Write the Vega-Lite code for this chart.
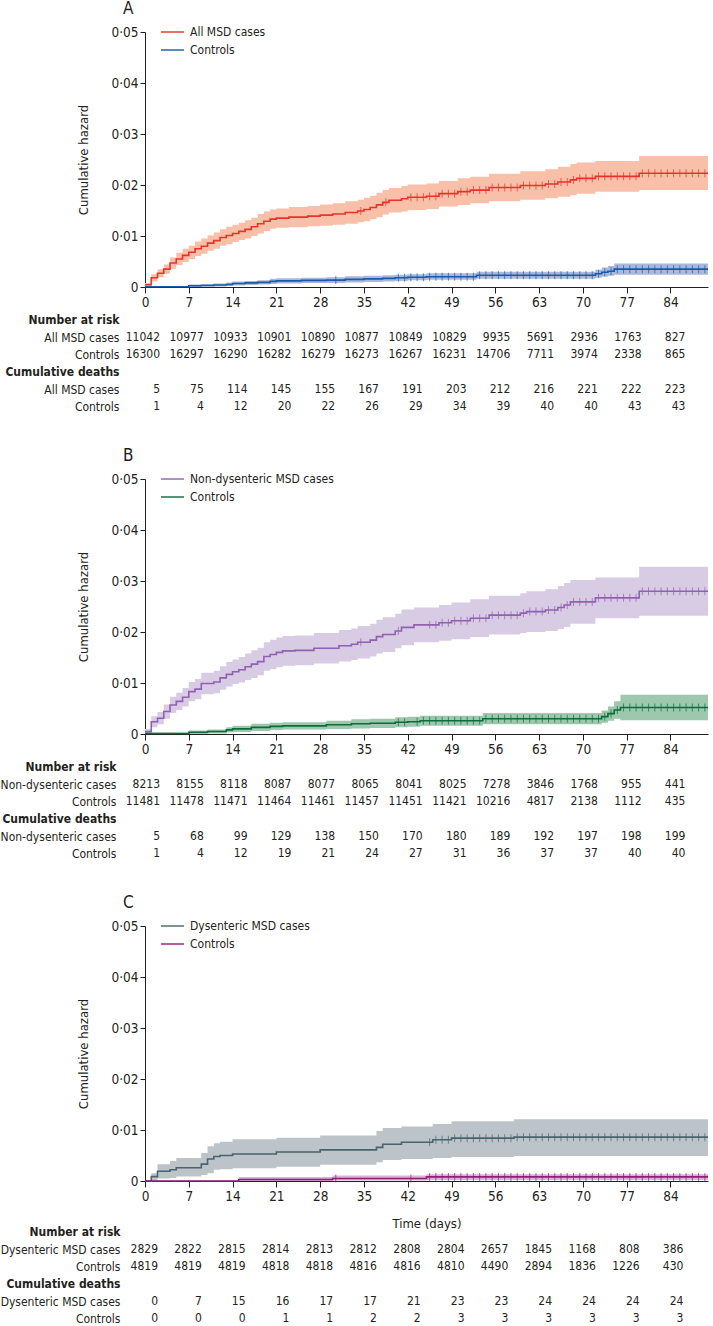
{
"$schema": "https://vega.github.io/schema/vega-lite/v6.json",
"padding": {"left": 0, "top": 0, "right": 0, "bottom": 0},
"config": {
 "font": "DejaVu Sans Condensed",
 "view": {"stroke": null},
 "axis": {"domainColor": "#231f20", "tickColor": "#231f20", "labelColor": "#231f20", "titleColor": "#231f20", "labelFont": "DejaVu Sans Condensed", "titleFont": "DejaVu Sans Condensed", "titleFontWeight": "normal", "titleFontSize": 13, "labelFontSize": 13.5, "grid": false, "domainWidth": 1, "tickWidth": 1},
 "legend": {"labelFont": "DejaVu Sans Condensed"},
 "title": {"font": "DejaVu Sans Condensed"},
 "text": {"font": "DejaVu Sans Condensed"}
},
"datasets": {
 "curves": [
  {"p":"A","g":"case","d":0,"e":0.00045,"l":0.0001,"h":0.0008},{"p":"A","g":"case","d":1,"e":0.0018,"l":0.0011,"h":0.0025},{"p":"A","g":"case","d":2,"e":0.0027,"l":0.0019,"h":0.0035},{"p":"A","g":"case","d":3,"e":0.0035,"l":0.0026,"h":0.0044},{"p":"A","g":"case","d":4,"e":0.0047,"l":0.0036,"h":0.0058},{"p":"A","g":"case","d":5,"e":0.0055,"l":0.0043,"h":0.0067},{"p":"A","g":"case","d":6,"e":0.0062,"l":0.0049,"h":0.0075},{"p":"A","g":"case","d":7,"e":0.0068,"l":0.0055,"h":0.0081},{"p":"A","g":"case","d":8,"e":0.0075,"l":0.0061,"h":0.0089},{"p":"A","g":"case","d":9,"e":0.008,"l":0.0065,"h":0.0095},{"p":"A","g":"case","d":10,"e":0.0086,"l":0.0071,"h":0.0101},{"p":"A","g":"case","d":11,"e":0.0091,"l":0.0075,"h":0.0107},{"p":"A","g":"case","d":12,"e":0.0097,"l":0.0081,"h":0.0113},{"p":"A","g":"case","d":13,"e":0.0101,"l":0.0084,"h":0.0118},{"p":"A","g":"case","d":14,"e":0.0105,"l":0.0088,"h":0.0122},{"p":"A","g":"case","d":15,"e":0.0109,"l":0.0092,"h":0.0126},{"p":"A","g":"case","d":16,"e":0.0113,"l":0.0095,"h":0.0131},{"p":"A","g":"case","d":17,"e":0.0118,"l":0.01,"h":0.0136},{"p":"A","g":"case","d":18,"e":0.0124,"l":0.0105,"h":0.0143},{"p":"A","g":"case","d":19,"e":0.0129,"l":0.011,"h":0.0148},{"p":"A","g":"case","d":20,"e":0.0133,"l":0.0114,"h":0.0152},{"p":"A","g":"case","d":21,"e":0.0135,"l":0.0116,"h":0.0154},{"p":"A","g":"case","d":23,"e":0.0137,"l":0.0117,"h":0.0157},{"p":"A","g":"case","d":26,"e":0.0139,"l":0.0119,"h":0.0159},{"p":"A","g":"case","d":28,"e":0.0141,"l":0.012,"h":0.0162},{"p":"A","g":"case","d":30,"e":0.0143,"l":0.0122,"h":0.0164},{"p":"A","g":"case","d":32,"e":0.0146,"l":0.0124,"h":0.0168},{"p":"A","g":"case","d":34,"e":0.0149,"l":0.0127,"h":0.0171},{"p":"A","g":"case","d":35,"e":0.0152,"l":0.0129,"h":0.0175},{"p":"A","g":"case","d":36,"e":0.0156,"l":0.0133,"h":0.0179},{"p":"A","g":"case","d":37,"e":0.0161,"l":0.0137,"h":0.0185},{"p":"A","g":"case","d":38,"e":0.0166,"l":0.0142,"h":0.019},{"p":"A","g":"case","d":39,"e":0.017,"l":0.0146,"h":0.0194},{"p":"A","g":"case","d":41,"e":0.0173,"l":0.0148,"h":0.0198},{"p":"A","g":"case","d":42,"e":0.0176,"l":0.0151,"h":0.0201},{"p":"A","g":"case","d":45,"e":0.0178,"l":0.0153,"h":0.0203},{"p":"A","g":"case","d":47,"e":0.0183,"l":0.0158,"h":0.0208},{"p":"A","g":"case","d":50,"e":0.0187,"l":0.0161,"h":0.0213},{"p":"A","g":"case","d":52,"e":0.019,"l":0.0164,"h":0.0216},{"p":"A","g":"case","d":55,"e":0.0195,"l":0.0168,"h":0.0222},{"p":"A","g":"case","d":60,"e":0.0199,"l":0.0171,"h":0.0227},{"p":"A","g":"case","d":64,"e":0.0202,"l":0.0174,"h":0.0231},{"p":"A","g":"case","d":66,"e":0.0206,"l":0.0177,"h":0.0236},{"p":"A","g":"case","d":68,"e":0.021,"l":0.018,"h":0.0241},{"p":"A","g":"case","d":69,"e":0.0213,"l":0.0183,"h":0.0244},{"p":"A","g":"case","d":72,"e":0.0217,"l":0.0187,"h":0.0247},{"p":"A","g":"case","d":79,"e":0.0223,"l":0.019,"h":0.0257},{"p":"A","g":"case","d":90,"e":0.0223,"l":0.019,"h":0.0257},
  {"p":"A","g":"ctrl","d":0,"e":0.00006,"l":0,"h":0.0002},{"p":"A","g":"ctrl","d":7,"e":0.00025,"l":0,"h":0.0005},{"p":"A","g":"ctrl","d":9,"e":0.0003,"l":0.0001,"h":0.0006},{"p":"A","g":"ctrl","d":11,"e":0.0004,"l":0.0001,"h":0.0007},{"p":"A","g":"ctrl","d":13,"e":0.0005,"l":0.0002,"h":0.0009},{"p":"A","g":"ctrl","d":14,"e":0.0007,"l":0.0003,"h":0.0011},{"p":"A","g":"ctrl","d":16,"e":0.0008,"l":0.0004,"h":0.0012},{"p":"A","g":"ctrl","d":18,"e":0.0009,"l":0.0005,"h":0.0013},{"p":"A","g":"ctrl","d":20,"e":0.0011,"l":0.0006,"h":0.0016},{"p":"A","g":"ctrl","d":21,"e":0.0012,"l":0.0007,"h":0.0017},{"p":"A","g":"ctrl","d":25,"e":0.0013,"l":0.0008,"h":0.0018},{"p":"A","g":"ctrl","d":29,"e":0.00135,"l":0.0008,"h":0.0019},{"p":"A","g":"ctrl","d":32,"e":0.0015,"l":0.0009,"h":0.0021},{"p":"A","g":"ctrl","d":35,"e":0.0016,"l":0.001,"h":0.0022},{"p":"A","g":"ctrl","d":38,"e":0.0017,"l":0.0011,"h":0.0023},{"p":"A","g":"ctrl","d":40,"e":0.0018,"l":0.0012,"h":0.0024},{"p":"A","g":"ctrl","d":42,"e":0.0019,"l":0.0013,"h":0.0025},{"p":"A","g":"ctrl","d":45,"e":0.002,"l":0.0014,"h":0.0027},{"p":"A","g":"ctrl","d":53,"e":0.0023,"l":0.0016,"h":0.003},{"p":"A","g":"ctrl","d":72,"e":0.0026,"l":0.0018,"h":0.0034},{"p":"A","g":"ctrl","d":73,"e":0.0029,"l":0.002,"h":0.0038},{"p":"A","g":"ctrl","d":74,"e":0.0031,"l":0.0022,"h":0.0041},{"p":"A","g":"ctrl","d":75,"e":0.0035,"l":0.0024,"h":0.0046},{"p":"A","g":"ctrl","d":90,"e":0.0035,"l":0.0024,"h":0.0046},
  {"p":"B","g":"case","d":0,"e":0.00046,"l":0.0001,"h":0.001},{"p":"B","g":"case","d":1,"e":0.0024,"l":0.0013,"h":0.0035},{"p":"B","g":"case","d":2,"e":0.0031,"l":0.0019,"h":0.0043},{"p":"B","g":"case","d":3,"e":0.0044,"l":0.003,"h":0.0058},{"p":"B","g":"case","d":4,"e":0.0057,"l":0.0041,"h":0.0073},{"p":"B","g":"case","d":5,"e":0.0064,"l":0.0047,"h":0.0081},{"p":"B","g":"case","d":6,"e":0.0072,"l":0.0054,"h":0.009},{"p":"B","g":"case","d":7,"e":0.0083,"l":0.0064,"h":0.0102},{"p":"B","g":"case","d":8,"e":0.0088,"l":0.0068,"h":0.0108},{"p":"B","g":"case","d":9,"e":0.0099,"l":0.0078,"h":0.012},{"p":"B","g":"case","d":11,"e":0.0102,"l":0.008,"h":0.0124},{"p":"B","g":"case","d":12,"e":0.011,"l":0.0087,"h":0.0133},{"p":"B","g":"case","d":13,"e":0.0117,"l":0.0093,"h":0.0141},{"p":"B","g":"case","d":14,"e":0.0122,"l":0.0098,"h":0.0146},{"p":"B","g":"case","d":15,"e":0.0126,"l":0.0101,"h":0.0151},{"p":"B","g":"case","d":16,"e":0.0132,"l":0.0106,"h":0.0158},{"p":"B","g":"case","d":17,"e":0.0137,"l":0.011,"h":0.0164},{"p":"B","g":"case","d":18,"e":0.0142,"l":0.0115,"h":0.0169},{"p":"B","g":"case","d":19,"e":0.0152,"l":0.0124,"h":0.018},{"p":"B","g":"case","d":20,"e":0.0156,"l":0.0127,"h":0.0185},{"p":"B","g":"case","d":21,"e":0.016,"l":0.0131,"h":0.0189},{"p":"B","g":"case","d":22,"e":0.0163,"l":0.0134,"h":0.0192},{"p":"B","g":"case","d":24,"e":0.0164,"l":0.0135,"h":0.0193},{"p":"B","g":"case","d":27,"e":0.0168,"l":0.0138,"h":0.0198},{"p":"B","g":"case","d":31,"e":0.0173,"l":0.0142,"h":0.0204},{"p":"B","g":"case","d":33,"e":0.0176,"l":0.0145,"h":0.0207},{"p":"B","g":"case","d":34,"e":0.018,"l":0.0148,"h":0.0212},{"p":"B","g":"case","d":36,"e":0.0184,"l":0.0152,"h":0.0216},{"p":"B","g":"case","d":37,"e":0.0191,"l":0.0158,"h":0.0224},{"p":"B","g":"case","d":38,"e":0.0195,"l":0.0161,"h":0.0229},{"p":"B","g":"case","d":40,"e":0.0202,"l":0.0168,"h":0.0236},{"p":"B","g":"case","d":41,"e":0.0209,"l":0.0174,"h":0.0244},{"p":"B","g":"case","d":43,"e":0.0214,"l":0.018,"h":0.0248},{"p":"B","g":"case","d":47,"e":0.0218,"l":0.0183,"h":0.0253},{"p":"B","g":"case","d":49,"e":0.0222,"l":0.0186,"h":0.0258},{"p":"B","g":"case","d":52,"e":0.0227,"l":0.019,"h":0.0264},{"p":"B","g":"case","d":55,"e":0.0233,"l":0.0195,"h":0.0271},{"p":"B","g":"case","d":60,"e":0.0237,"l":0.0198,"h":0.0276},{"p":"B","g":"case","d":61,"e":0.024,"l":0.02,"h":0.028},{"p":"B","g":"case","d":64,"e":0.0243,"l":0.0202,"h":0.0284},{"p":"B","g":"case","d":66,"e":0.0248,"l":0.0206,"h":0.029},{"p":"B","g":"case","d":67,"e":0.0253,"l":0.021,"h":0.0296},{"p":"B","g":"case","d":68,"e":0.0259,"l":0.0216,"h":0.0302},{"p":"B","g":"case","d":72,"e":0.0267,"l":0.0227,"h":0.0307},{"p":"B","g":"case","d":79,"e":0.028,"l":0.0232,"h":0.0328},{"p":"B","g":"case","d":90,"e":0.028,"l":0.0232,"h":0.0328},
  {"p":"B","g":"ctrl","d":0,"e":0.00009,"l":0,"h":0.0003},{"p":"B","g":"ctrl","d":7,"e":0.00035,"l":0,"h":0.0007},{"p":"B","g":"ctrl","d":10,"e":0.0005,"l":0.0001,"h":0.0009},{"p":"B","g":"ctrl","d":13,"e":0.0008,"l":0.0003,"h":0.0013},{"p":"B","g":"ctrl","d":14,"e":0.001,"l":0.0004,"h":0.0016},{"p":"B","g":"ctrl","d":17,"e":0.0013,"l":0.0006,"h":0.002},{"p":"B","g":"ctrl","d":20,"e":0.0015,"l":0.0008,"h":0.0022},{"p":"B","g":"ctrl","d":22,"e":0.0016,"l":0.0009,"h":0.0023},{"p":"B","g":"ctrl","d":29,"e":0.0018,"l":0.001,"h":0.0026},{"p":"B","g":"ctrl","d":33,"e":0.002,"l":0.0011,"h":0.0029},{"p":"B","g":"ctrl","d":36,"e":0.0021,"l":0.0012,"h":0.003},{"p":"B","g":"ctrl","d":40,"e":0.0023,"l":0.0013,"h":0.0033},{"p":"B","g":"ctrl","d":42,"e":0.0024,"l":0.0014,"h":0.0034},{"p":"B","g":"ctrl","d":44,"e":0.0026,"l":0.0016,"h":0.0036},{"p":"B","g":"ctrl","d":54,"e":0.003,"l":0.0019,"h":0.0041},{"p":"B","g":"ctrl","d":73,"e":0.0034,"l":0.0022,"h":0.0046},{"p":"B","g":"ctrl","d":74,"e":0.004,"l":0.0026,"h":0.0054},{"p":"B","g":"ctrl","d":75,"e":0.0047,"l":0.003,"h":0.0064},{"p":"B","g":"ctrl","d":76,"e":0.0052,"l":0.0027,"h":0.0077},{"p":"B","g":"ctrl","d":90,"e":0.0052,"l":0.0027,"h":0.0077},
  {"p":"C","g":"case","d":0,"e":0,"l":0,"h":0},{"p":"C","g":"case","d":1,"e":0.00085,"l":0,"h":0.0015},{"p":"C","g":"case","d":2,"e":0.0019,"l":0.0005,"h":0.0033},{"p":"C","g":"case","d":4,"e":0.0022,"l":0.0006,"h":0.0039},{"p":"C","g":"case","d":5,"e":0.0026,"l":0.0009,"h":0.0045},{"p":"C","g":"case","d":9,"e":0.0033,"l":0.0012,"h":0.0055},{"p":"C","g":"case","d":10,"e":0.0043,"l":0.0015,"h":0.0068},{"p":"C","g":"case","d":11,"e":0.0048,"l":0.0022,"h":0.0074},{"p":"C","g":"case","d":12,"e":0.005,"l":0.0023,"h":0.0077},{"p":"C","g":"case","d":14,"e":0.0053,"l":0.0025,"h":0.0082},{"p":"C","g":"case","d":21,"e":0.0057,"l":0.0028,"h":0.0085},{"p":"C","g":"case","d":28,"e":0.0061,"l":0.0032,"h":0.0089},{"p":"C","g":"case","d":37,"e":0.0066,"l":0.0037,"h":0.0098},{"p":"C","g":"case","d":38,"e":0.0072,"l":0.0041,"h":0.0104},{"p":"C","g":"case","d":41,"e":0.0076,"l":0.0043,"h":0.0107},{"p":"C","g":"case","d":46,"e":0.0081,"l":0.0045,"h":0.0112},{"p":"C","g":"case","d":49,"e":0.0084,"l":0.0047,"h":0.0117},{"p":"C","g":"case","d":59,"e":0.0086,"l":0.0049,"h":0.0121},{"p":"C","g":"case","d":90,"e":0.0086,"l":0.0049,"h":0.0121},
  {"p":"C","g":"ctrl","d":0,"e":0,"l":0,"h":0.0001},{"p":"C","g":"ctrl","d":15,"e":0.0003,"l":0,"h":0.0008},{"p":"C","g":"ctrl","d":30,"e":0.0005,"l":0.0001,"h":0.0011},{"p":"C","g":"ctrl","d":45,"e":0.0008,"l":0.0002,"h":0.0013},{"p":"C","g":"ctrl","d":90,"e":0.0008,"l":0.0002,"h":0.0013}
 ],
 "cens": [
  {"p":"A","g":"case","d":34.5,"e":0.0149},{"p":"A","g":"case","d":38.5,"e":0.0166},{"p":"A","g":"case","d":42.5,"e":0.0176},{"p":"A","g":"case","d":43.5,"e":0.0176},{"p":"A","g":"case","d":44.5,"e":0.0176},{"p":"A","g":"case","d":45.5,"e":0.0178},{"p":"A","g":"case","d":46.5,"e":0.0178},{"p":"A","g":"case","d":47.5,"e":0.0183},{"p":"A","g":"case","d":48.5,"e":0.0183},{"p":"A","g":"case","d":49.5,"e":0.0183},{"p":"A","g":"case","d":50.5,"e":0.0187},{"p":"A","g":"case","d":51.5,"e":0.0187},{"p":"A","g":"case","d":52.5,"e":0.019},{"p":"A","g":"case","d":53.5,"e":0.019},{"p":"A","g":"case","d":54.5,"e":0.019},{"p":"A","g":"case","d":55.5,"e":0.0195},{"p":"A","g":"case","d":56.5,"e":0.0195},{"p":"A","g":"case","d":57.5,"e":0.0195},{"p":"A","g":"case","d":58.5,"e":0.0195},{"p":"A","g":"case","d":59.5,"e":0.0195},{"p":"A","g":"case","d":60.5,"e":0.0199},{"p":"A","g":"case","d":61.5,"e":0.0199},{"p":"A","g":"case","d":62.5,"e":0.0199},{"p":"A","g":"case","d":63.5,"e":0.0199},{"p":"A","g":"case","d":64.5,"e":0.0202},{"p":"A","g":"case","d":65.5,"e":0.0202},{"p":"A","g":"case","d":66.5,"e":0.0206},{"p":"A","g":"case","d":67.5,"e":0.0206},{"p":"A","g":"case","d":68.5,"e":0.021},{"p":"A","g":"case","d":69.5,"e":0.0213},{"p":"A","g":"case","d":70.5,"e":0.0213},{"p":"A","g":"case","d":71.5,"e":0.0213},{"p":"A","g":"case","d":72.5,"e":0.0217},{"p":"A","g":"case","d":73.5,"e":0.0217},{"p":"A","g":"case","d":74.5,"e":0.0217},{"p":"A","g":"case","d":75.5,"e":0.0217},{"p":"A","g":"case","d":76.5,"e":0.0217},{"p":"A","g":"case","d":77.5,"e":0.0217},{"p":"A","g":"case","d":78.5,"e":0.0217},{"p":"A","g":"case","d":79.5,"e":0.0223},{"p":"A","g":"case","d":80.5,"e":0.0223},{"p":"A","g":"case","d":81.5,"e":0.0223},{"p":"A","g":"case","d":82.5,"e":0.0223},{"p":"A","g":"case","d":83.5,"e":0.0223},{"p":"A","g":"case","d":84.5,"e":0.0223},{"p":"A","g":"case","d":85.5,"e":0.0223},{"p":"A","g":"case","d":86.5,"e":0.0223},{"p":"A","g":"case","d":87.5,"e":0.0223},{"p":"A","g":"case","d":88.5,"e":0.0223},{"p":"A","g":"case","d":89.5,"e":0.0223},
  {"p":"A","g":"ctrl","d":30.5,"e":0.00135},{"p":"A","g":"ctrl","d":40.5,"e":0.0018},{"p":"A","g":"ctrl","d":41.5,"e":0.0018},{"p":"A","g":"ctrl","d":42.5,"e":0.0019},{"p":"A","g":"ctrl","d":43.5,"e":0.0019},{"p":"A","g":"ctrl","d":44.5,"e":0.0019},{"p":"A","g":"ctrl","d":45.5,"e":0.002},{"p":"A","g":"ctrl","d":46.5,"e":0.002},{"p":"A","g":"ctrl","d":47.5,"e":0.002},{"p":"A","g":"ctrl","d":48.5,"e":0.002},{"p":"A","g":"ctrl","d":49.5,"e":0.002},{"p":"A","g":"ctrl","d":50.5,"e":0.002},{"p":"A","g":"ctrl","d":51.5,"e":0.002},{"p":"A","g":"ctrl","d":52.5,"e":0.002},{"p":"A","g":"ctrl","d":53.5,"e":0.0023},{"p":"A","g":"ctrl","d":54.5,"e":0.0023},{"p":"A","g":"ctrl","d":55.5,"e":0.0023},{"p":"A","g":"ctrl","d":56.5,"e":0.0023},{"p":"A","g":"ctrl","d":57.5,"e":0.0023},{"p":"A","g":"ctrl","d":58.5,"e":0.0023},{"p":"A","g":"ctrl","d":59.5,"e":0.0023},{"p":"A","g":"ctrl","d":60.5,"e":0.0023},{"p":"A","g":"ctrl","d":61.5,"e":0.0023},{"p":"A","g":"ctrl","d":62.5,"e":0.0023},{"p":"A","g":"ctrl","d":63.5,"e":0.0023},{"p":"A","g":"ctrl","d":64.5,"e":0.0023},{"p":"A","g":"ctrl","d":65.5,"e":0.0023},{"p":"A","g":"ctrl","d":66.5,"e":0.0023},{"p":"A","g":"ctrl","d":67.5,"e":0.0023},{"p":"A","g":"ctrl","d":68.5,"e":0.0023},{"p":"A","g":"ctrl","d":69.5,"e":0.0023},{"p":"A","g":"ctrl","d":70.5,"e":0.0023},{"p":"A","g":"ctrl","d":71.5,"e":0.0023},{"p":"A","g":"ctrl","d":72.5,"e":0.0026},{"p":"A","g":"ctrl","d":73.5,"e":0.0029},{"p":"A","g":"ctrl","d":74.5,"e":0.0031},{"p":"A","g":"ctrl","d":75.5,"e":0.0035},{"p":"A","g":"ctrl","d":76.5,"e":0.0035},{"p":"A","g":"ctrl","d":77.5,"e":0.0035},{"p":"A","g":"ctrl","d":78.5,"e":0.0035},{"p":"A","g":"ctrl","d":79.5,"e":0.0035},{"p":"A","g":"ctrl","d":80.5,"e":0.0035},{"p":"A","g":"ctrl","d":81.5,"e":0.0035},{"p":"A","g":"ctrl","d":82.5,"e":0.0035},{"p":"A","g":"ctrl","d":83.5,"e":0.0035},{"p":"A","g":"ctrl","d":84.5,"e":0.0035},{"p":"A","g":"ctrl","d":85.5,"e":0.0035},{"p":"A","g":"ctrl","d":86.5,"e":0.0035},{"p":"A","g":"ctrl","d":87.5,"e":0.0035},{"p":"A","g":"ctrl","d":88.5,"e":0.0035},{"p":"A","g":"ctrl","d":89.5,"e":0.0035},
  {"p":"B","g":"case","d":34.5,"e":0.018},{"p":"B","g":"case","d":40.5,"e":0.0202},{"p":"B","g":"case","d":45.5,"e":0.0214},{"p":"B","g":"case","d":46.5,"e":0.0214},{"p":"B","g":"case","d":47.5,"e":0.0218},{"p":"B","g":"case","d":48.5,"e":0.0218},{"p":"B","g":"case","d":49.5,"e":0.0222},{"p":"B","g":"case","d":50.5,"e":0.0222},{"p":"B","g":"case","d":51.5,"e":0.0222},{"p":"B","g":"case","d":52.5,"e":0.0227},{"p":"B","g":"case","d":53.5,"e":0.0227},{"p":"B","g":"case","d":54.5,"e":0.0227},{"p":"B","g":"case","d":55.5,"e":0.0233},{"p":"B","g":"case","d":56.5,"e":0.0233},{"p":"B","g":"case","d":57.5,"e":0.0233},{"p":"B","g":"case","d":58.5,"e":0.0233},{"p":"B","g":"case","d":59.5,"e":0.0233},{"p":"B","g":"case","d":60.5,"e":0.0237},{"p":"B","g":"case","d":61.5,"e":0.024},{"p":"B","g":"case","d":62.5,"e":0.024},{"p":"B","g":"case","d":63.5,"e":0.024},{"p":"B","g":"case","d":64.5,"e":0.0243},{"p":"B","g":"case","d":65.5,"e":0.0243},{"p":"B","g":"case","d":66.5,"e":0.0248},{"p":"B","g":"case","d":67.5,"e":0.0253},{"p":"B","g":"case","d":68.5,"e":0.0259},{"p":"B","g":"case","d":69.5,"e":0.0259},{"p":"B","g":"case","d":70.5,"e":0.0259},{"p":"B","g":"case","d":71.5,"e":0.0259},{"p":"B","g":"case","d":72.5,"e":0.0267},{"p":"B","g":"case","d":73.5,"e":0.0267},{"p":"B","g":"case","d":74.5,"e":0.0267},{"p":"B","g":"case","d":75.5,"e":0.0267},{"p":"B","g":"case","d":76.5,"e":0.0267},{"p":"B","g":"case","d":77.5,"e":0.0267},{"p":"B","g":"case","d":78.5,"e":0.0267},{"p":"B","g":"case","d":79.5,"e":0.028},{"p":"B","g":"case","d":80.5,"e":0.028},{"p":"B","g":"case","d":81.5,"e":0.028},{"p":"B","g":"case","d":82.5,"e":0.028},{"p":"B","g":"case","d":83.5,"e":0.028},{"p":"B","g":"case","d":84.5,"e":0.028},{"p":"B","g":"case","d":85.5,"e":0.028},{"p":"B","g":"case","d":86.5,"e":0.028},{"p":"B","g":"case","d":87.5,"e":0.028},{"p":"B","g":"case","d":88.5,"e":0.028},{"p":"B","g":"case","d":89.5,"e":0.028},
  {"p":"B","g":"ctrl","d":40.5,"e":0.0023},{"p":"B","g":"ctrl","d":41.5,"e":0.0023},{"p":"B","g":"ctrl","d":43.5,"e":0.0024},{"p":"B","g":"ctrl","d":44.5,"e":0.0026},{"p":"B","g":"ctrl","d":45.5,"e":0.0026},{"p":"B","g":"ctrl","d":46.5,"e":0.0026},{"p":"B","g":"ctrl","d":47.5,"e":0.0026},{"p":"B","g":"ctrl","d":48.5,"e":0.0026},{"p":"B","g":"ctrl","d":49.5,"e":0.0026},{"p":"B","g":"ctrl","d":50.5,"e":0.0026},{"p":"B","g":"ctrl","d":51.5,"e":0.0026},{"p":"B","g":"ctrl","d":52.5,"e":0.0026},{"p":"B","g":"ctrl","d":53.5,"e":0.0026},{"p":"B","g":"ctrl","d":54.5,"e":0.003},{"p":"B","g":"ctrl","d":55.5,"e":0.003},{"p":"B","g":"ctrl","d":56.5,"e":0.003},{"p":"B","g":"ctrl","d":57.5,"e":0.003},{"p":"B","g":"ctrl","d":58.5,"e":0.003},{"p":"B","g":"ctrl","d":59.5,"e":0.003},{"p":"B","g":"ctrl","d":60.5,"e":0.003},{"p":"B","g":"ctrl","d":61.5,"e":0.003},{"p":"B","g":"ctrl","d":62.5,"e":0.003},{"p":"B","g":"ctrl","d":63.5,"e":0.003},{"p":"B","g":"ctrl","d":64.5,"e":0.003},{"p":"B","g":"ctrl","d":65.5,"e":0.003},{"p":"B","g":"ctrl","d":66.5,"e":0.003},{"p":"B","g":"ctrl","d":67.5,"e":0.003},{"p":"B","g":"ctrl","d":68.5,"e":0.003},{"p":"B","g":"ctrl","d":69.5,"e":0.003},{"p":"B","g":"ctrl","d":70.5,"e":0.003},{"p":"B","g":"ctrl","d":71.5,"e":0.003},{"p":"B","g":"ctrl","d":72.5,"e":0.003},{"p":"B","g":"ctrl","d":73.5,"e":0.0034},{"p":"B","g":"ctrl","d":74.5,"e":0.004},{"p":"B","g":"ctrl","d":75.5,"e":0.0047},{"p":"B","g":"ctrl","d":76.5,"e":0.0052},{"p":"B","g":"ctrl","d":77.5,"e":0.0052},{"p":"B","g":"ctrl","d":78.5,"e":0.0052},{"p":"B","g":"ctrl","d":79.5,"e":0.0052},{"p":"B","g":"ctrl","d":80.5,"e":0.0052},{"p":"B","g":"ctrl","d":81.5,"e":0.0052},{"p":"B","g":"ctrl","d":82.5,"e":0.0052},{"p":"B","g":"ctrl","d":83.5,"e":0.0052},{"p":"B","g":"ctrl","d":84.5,"e":0.0052},{"p":"B","g":"ctrl","d":85.5,"e":0.0052},{"p":"B","g":"ctrl","d":86.5,"e":0.0052},{"p":"B","g":"ctrl","d":87.5,"e":0.0052},{"p":"B","g":"ctrl","d":88.5,"e":0.0052},{"p":"B","g":"ctrl","d":89.5,"e":0.0052},
  {"p":"C","g":"case","d":45.5,"e":0.0076},{"p":"C","g":"case","d":46.5,"e":0.0081},{"p":"C","g":"case","d":47.5,"e":0.0081},{"p":"C","g":"case","d":48.5,"e":0.0081},{"p":"C","g":"case","d":49.5,"e":0.0084},{"p":"C","g":"case","d":50.5,"e":0.0084},{"p":"C","g":"case","d":51.5,"e":0.0084},{"p":"C","g":"case","d":52.5,"e":0.0084},{"p":"C","g":"case","d":53.5,"e":0.0084},{"p":"C","g":"case","d":54.5,"e":0.0084},{"p":"C","g":"case","d":55.5,"e":0.0084},{"p":"C","g":"case","d":56.5,"e":0.0084},{"p":"C","g":"case","d":57.5,"e":0.0084},{"p":"C","g":"case","d":58.5,"e":0.0084},{"p":"C","g":"case","d":59.5,"e":0.0086},{"p":"C","g":"case","d":60.5,"e":0.0086},{"p":"C","g":"case","d":61.5,"e":0.0086},{"p":"C","g":"case","d":62.5,"e":0.0086},{"p":"C","g":"case","d":63.5,"e":0.0086},{"p":"C","g":"case","d":64.5,"e":0.0086},{"p":"C","g":"case","d":65.5,"e":0.0086},{"p":"C","g":"case","d":66.5,"e":0.0086},{"p":"C","g":"case","d":67.5,"e":0.0086},{"p":"C","g":"case","d":68.5,"e":0.0086},{"p":"C","g":"case","d":69.5,"e":0.0086},{"p":"C","g":"case","d":70.5,"e":0.0086},{"p":"C","g":"case","d":71.5,"e":0.0086},{"p":"C","g":"case","d":72.5,"e":0.0086},{"p":"C","g":"case","d":73.5,"e":0.0086},{"p":"C","g":"case","d":74.5,"e":0.0086},{"p":"C","g":"case","d":75.5,"e":0.0086},{"p":"C","g":"case","d":76.5,"e":0.0086},{"p":"C","g":"case","d":77.5,"e":0.0086},{"p":"C","g":"case","d":78.5,"e":0.0086},{"p":"C","g":"case","d":79.5,"e":0.0086},{"p":"C","g":"case","d":80.5,"e":0.0086},{"p":"C","g":"case","d":81.5,"e":0.0086},{"p":"C","g":"case","d":82.5,"e":0.0086},{"p":"C","g":"case","d":83.5,"e":0.0086},{"p":"C","g":"case","d":84.5,"e":0.0086},{"p":"C","g":"case","d":85.5,"e":0.0086},{"p":"C","g":"case","d":86.5,"e":0.0086},{"p":"C","g":"case","d":87.5,"e":0.0086},{"p":"C","g":"case","d":88.5,"e":0.0086},{"p":"C","g":"case","d":89.5,"e":0.0086},
  {"p":"C","g":"ctrl","d":30.5,"e":0.0005},{"p":"C","g":"ctrl","d":42.5,"e":0.0005},{"p":"C","g":"ctrl","d":45.5,"e":0.0008},{"p":"C","g":"ctrl","d":46.5,"e":0.0008},{"p":"C","g":"ctrl","d":47.5,"e":0.0008},{"p":"C","g":"ctrl","d":48.5,"e":0.0008},{"p":"C","g":"ctrl","d":49.5,"e":0.0008},{"p":"C","g":"ctrl","d":50.5,"e":0.0008},{"p":"C","g":"ctrl","d":51.5,"e":0.0008},{"p":"C","g":"ctrl","d":52.5,"e":0.0008},{"p":"C","g":"ctrl","d":53.5,"e":0.0008},{"p":"C","g":"ctrl","d":54.5,"e":0.0008},{"p":"C","g":"ctrl","d":55.5,"e":0.0008},{"p":"C","g":"ctrl","d":56.5,"e":0.0008},{"p":"C","g":"ctrl","d":57.5,"e":0.0008},{"p":"C","g":"ctrl","d":58.5,"e":0.0008},{"p":"C","g":"ctrl","d":59.5,"e":0.0008},{"p":"C","g":"ctrl","d":60.5,"e":0.0008},{"p":"C","g":"ctrl","d":61.5,"e":0.0008},{"p":"C","g":"ctrl","d":62.5,"e":0.0008},{"p":"C","g":"ctrl","d":63.5,"e":0.0008},{"p":"C","g":"ctrl","d":64.5,"e":0.0008},{"p":"C","g":"ctrl","d":65.5,"e":0.0008},{"p":"C","g":"ctrl","d":66.5,"e":0.0008},{"p":"C","g":"ctrl","d":67.5,"e":0.0008},{"p":"C","g":"ctrl","d":68.5,"e":0.0008},{"p":"C","g":"ctrl","d":69.5,"e":0.0008},{"p":"C","g":"ctrl","d":70.5,"e":0.0008},{"p":"C","g":"ctrl","d":71.5,"e":0.0008},{"p":"C","g":"ctrl","d":72.5,"e":0.0008},{"p":"C","g":"ctrl","d":73.5,"e":0.0008},{"p":"C","g":"ctrl","d":74.5,"e":0.0008},{"p":"C","g":"ctrl","d":75.5,"e":0.0008},{"p":"C","g":"ctrl","d":76.5,"e":0.0008},{"p":"C","g":"ctrl","d":77.5,"e":0.0008},{"p":"C","g":"ctrl","d":78.5,"e":0.0008},{"p":"C","g":"ctrl","d":79.5,"e":0.0008},{"p":"C","g":"ctrl","d":80.5,"e":0.0008},{"p":"C","g":"ctrl","d":81.5,"e":0.0008},{"p":"C","g":"ctrl","d":82.5,"e":0.0008},{"p":"C","g":"ctrl","d":83.5,"e":0.0008},{"p":"C","g":"ctrl","d":84.5,"e":0.0008},{"p":"C","g":"ctrl","d":85.5,"e":0.0008},{"p":"C","g":"ctrl","d":86.5,"e":0.0008},{"p":"C","g":"ctrl","d":87.5,"e":0.0008},{"p":"C","g":"ctrl","d":88.5,"e":0.0008},{"p":"C","g":"ctrl","d":89.5,"e":0.0008}
 ],
 "tables": [
  {"p":"A","r":"r1","d":0,"v":11042},{"p":"A","r":"r1","d":7,"v":10977},{"p":"A","r":"r1","d":14,"v":10933},{"p":"A","r":"r1","d":21,"v":10901},{"p":"A","r":"r1","d":28,"v":10890},{"p":"A","r":"r1","d":35,"v":10877},{"p":"A","r":"r1","d":42,"v":10849},{"p":"A","r":"r1","d":49,"v":10829},{"p":"A","r":"r1","d":56,"v":9935},{"p":"A","r":"r1","d":63,"v":5691},{"p":"A","r":"r1","d":70,"v":2936},{"p":"A","r":"r1","d":77,"v":1763},{"p":"A","r":"r1","d":84,"v":827},
  {"p":"A","r":"r2","d":0,"v":16300},{"p":"A","r":"r2","d":7,"v":16297},{"p":"A","r":"r2","d":14,"v":16290},{"p":"A","r":"r2","d":21,"v":16282},{"p":"A","r":"r2","d":28,"v":16279},{"p":"A","r":"r2","d":35,"v":16273},{"p":"A","r":"r2","d":42,"v":16267},{"p":"A","r":"r2","d":49,"v":16231},{"p":"A","r":"r2","d":56,"v":14706},{"p":"A","r":"r2","d":63,"v":7711},{"p":"A","r":"r2","d":70,"v":3974},{"p":"A","r":"r2","d":77,"v":2338},{"p":"A","r":"r2","d":84,"v":865},
  {"p":"A","r":"r3","d":0,"v":5},{"p":"A","r":"r3","d":7,"v":75},{"p":"A","r":"r3","d":14,"v":114},{"p":"A","r":"r3","d":21,"v":145},{"p":"A","r":"r3","d":28,"v":155},{"p":"A","r":"r3","d":35,"v":167},{"p":"A","r":"r3","d":42,"v":191},{"p":"A","r":"r3","d":49,"v":203},{"p":"A","r":"r3","d":56,"v":212},{"p":"A","r":"r3","d":63,"v":216},{"p":"A","r":"r3","d":70,"v":221},{"p":"A","r":"r3","d":77,"v":222},{"p":"A","r":"r3","d":84,"v":223},
  {"p":"A","r":"r4","d":0,"v":1},{"p":"A","r":"r4","d":7,"v":4},{"p":"A","r":"r4","d":14,"v":12},{"p":"A","r":"r4","d":21,"v":20},{"p":"A","r":"r4","d":28,"v":22},{"p":"A","r":"r4","d":35,"v":26},{"p":"A","r":"r4","d":42,"v":29},{"p":"A","r":"r4","d":49,"v":34},{"p":"A","r":"r4","d":56,"v":39},{"p":"A","r":"r4","d":63,"v":40},{"p":"A","r":"r4","d":70,"v":40},{"p":"A","r":"r4","d":77,"v":43},{"p":"A","r":"r4","d":84,"v":43},
  {"p":"B","r":"r1","d":0,"v":8213},{"p":"B","r":"r1","d":7,"v":8155},{"p":"B","r":"r1","d":14,"v":8118},{"p":"B","r":"r1","d":21,"v":8087},{"p":"B","r":"r1","d":28,"v":8077},{"p":"B","r":"r1","d":35,"v":8065},{"p":"B","r":"r1","d":42,"v":8041},{"p":"B","r":"r1","d":49,"v":8025},{"p":"B","r":"r1","d":56,"v":7278},{"p":"B","r":"r1","d":63,"v":3846},{"p":"B","r":"r1","d":70,"v":1768},{"p":"B","r":"r1","d":77,"v":955},{"p":"B","r":"r1","d":84,"v":441},
  {"p":"B","r":"r2","d":0,"v":11481},{"p":"B","r":"r2","d":7,"v":11478},{"p":"B","r":"r2","d":14,"v":11471},{"p":"B","r":"r2","d":21,"v":11464},{"p":"B","r":"r2","d":28,"v":11461},{"p":"B","r":"r2","d":35,"v":11457},{"p":"B","r":"r2","d":42,"v":11451},{"p":"B","r":"r2","d":49,"v":11421},{"p":"B","r":"r2","d":56,"v":10216},{"p":"B","r":"r2","d":63,"v":4817},{"p":"B","r":"r2","d":70,"v":2138},{"p":"B","r":"r2","d":77,"v":1112},{"p":"B","r":"r2","d":84,"v":435},
  {"p":"B","r":"r3","d":0,"v":5},{"p":"B","r":"r3","d":7,"v":68},{"p":"B","r":"r3","d":14,"v":99},{"p":"B","r":"r3","d":21,"v":129},{"p":"B","r":"r3","d":28,"v":138},{"p":"B","r":"r3","d":35,"v":150},{"p":"B","r":"r3","d":42,"v":170},{"p":"B","r":"r3","d":49,"v":180},{"p":"B","r":"r3","d":56,"v":189},{"p":"B","r":"r3","d":63,"v":192},{"p":"B","r":"r3","d":70,"v":197},{"p":"B","r":"r3","d":77,"v":198},{"p":"B","r":"r3","d":84,"v":199},
  {"p":"B","r":"r4","d":0,"v":1},{"p":"B","r":"r4","d":7,"v":4},{"p":"B","r":"r4","d":14,"v":12},{"p":"B","r":"r4","d":21,"v":19},{"p":"B","r":"r4","d":28,"v":21},{"p":"B","r":"r4","d":35,"v":24},{"p":"B","r":"r4","d":42,"v":27},{"p":"B","r":"r4","d":49,"v":31},{"p":"B","r":"r4","d":56,"v":36},{"p":"B","r":"r4","d":63,"v":37},{"p":"B","r":"r4","d":70,"v":37},{"p":"B","r":"r4","d":77,"v":40},{"p":"B","r":"r4","d":84,"v":40},
  {"p":"C","r":"r1","d":0,"v":2829},{"p":"C","r":"r1","d":7,"v":2822},{"p":"C","r":"r1","d":14,"v":2815},{"p":"C","r":"r1","d":21,"v":2814},{"p":"C","r":"r1","d":28,"v":2813},{"p":"C","r":"r1","d":35,"v":2812},{"p":"C","r":"r1","d":42,"v":2808},{"p":"C","r":"r1","d":49,"v":2804},{"p":"C","r":"r1","d":56,"v":2657},{"p":"C","r":"r1","d":63,"v":1845},{"p":"C","r":"r1","d":70,"v":1168},{"p":"C","r":"r1","d":77,"v":808},{"p":"C","r":"r1","d":84,"v":386},
  {"p":"C","r":"r2","d":0,"v":4819},{"p":"C","r":"r2","d":7,"v":4819},{"p":"C","r":"r2","d":14,"v":4819},{"p":"C","r":"r2","d":21,"v":4818},{"p":"C","r":"r2","d":28,"v":4818},{"p":"C","r":"r2","d":35,"v":4816},{"p":"C","r":"r2","d":42,"v":4816},{"p":"C","r":"r2","d":49,"v":4810},{"p":"C","r":"r2","d":56,"v":4490},{"p":"C","r":"r2","d":63,"v":2894},{"p":"C","r":"r2","d":70,"v":1836},{"p":"C","r":"r2","d":77,"v":1226},{"p":"C","r":"r2","d":84,"v":430},
  {"p":"C","r":"r3","d":0,"v":0},{"p":"C","r":"r3","d":7,"v":7},{"p":"C","r":"r3","d":14,"v":15},{"p":"C","r":"r3","d":21,"v":16},{"p":"C","r":"r3","d":28,"v":17},{"p":"C","r":"r3","d":35,"v":17},{"p":"C","r":"r3","d":42,"v":21},{"p":"C","r":"r3","d":49,"v":23},{"p":"C","r":"r3","d":56,"v":23},{"p":"C","r":"r3","d":63,"v":24},{"p":"C","r":"r3","d":70,"v":24},{"p":"C","r":"r3","d":77,"v":24},{"p":"C","r":"r3","d":84,"v":24},
  {"p":"C","r":"r4","d":0,"v":0},{"p":"C","r":"r4","d":7,"v":0},{"p":"C","r":"r4","d":14,"v":0},{"p":"C","r":"r4","d":21,"v":1},{"p":"C","r":"r4","d":28,"v":1},{"p":"C","r":"r4","d":35,"v":2},{"p":"C","r":"r4","d":42,"v":2},{"p":"C","r":"r4","d":49,"v":3},{"p":"C","r":"r4","d":56,"v":3},{"p":"C","r":"r4","d":63,"v":3},{"p":"C","r":"r4","d":70,"v":3},{"p":"C","r":"r4","d":77,"v":3},{"p":"C","r":"r4","d":84,"v":3}
 ]
},
"vconcat": [
 {
  "vconcat": [
   {
    "width": 563, "height": 255,
    "title": {"text": "A", "anchor": "start", "frame": "group", "dx": -22, "offset": 6, "fontSize": 17, "fontWeight": "normal", "color": "#231f20"},
    "layer": [
     {"data": {"name": "curves"}, "transform": [{"filter": "datum.p == 'A'"}],
      "mark": {"type": "area", "interpolate": "step-after"},
      "encoding": {
       "x": {"field": "d", "type": "quantitative", "title": null, "scale": {"domain": [0, 90], "nice": false}, "axis": {"values": [0,7,14,21,28,35,42,49,56,63,70,77,84], "tickSize": 6, "labelPadding": 2, "labelFlush": false}},
       "y": {"field": "l", "type": "quantitative", "title": "Cumulative hazard", "scale": {"domain": [0, 0.05], "nice": false}, "axis": {"values": [0,0.01,0.02,0.03,0.04,0.05], "labelExpr": "datum.value == 0 ? '0' : replace(format(datum.value, '.2f'), '.', '·')", "tickSize": 5, "labelPadding": 2, "titlePadding": 20}},
       "y2": {"field": "h"},
       "fill": {"field": "g", "type": "nominal", "scale": {"domain": ["ctrl", "case"], "range": ["#a9b8dc", "#f8c0a8"]}, "legend": null}
      }},
     {"data": {"name": "curves"}, "transform": [{"filter": "datum.p == 'A'"}],
      "mark": {"type": "line", "interpolate": "step-after", "strokeWidth": 1.6},
      "encoding": {
       "x": {"field": "d", "type": "quantitative", "title": null},
       "y": {"field": "e", "type": "quantitative", "title": "Cumulative hazard"},
       "color": {"field": "g", "type": "nominal", "scale": {"domain": ["case", "ctrl"], "range": ["#e8322a", "#1b5aa6"]},
        "legend": {"orient": "none", "legendX": 15, "legendY": -8, "title": null, "symbolType": "stroke", "symbolSize": 529, "symbolStrokeWidth": 2, "labelFontSize": 12, "labelOffset": 5, "clipHeight": 16, "rowPadding": 2, "padding": 0, "labelColor": "#231f20", "labelExpr": "datum.label == 'case' ? 'All MSD cases' : 'Controls'"}}
      }},
     {"data": {"name": "cens"}, "transform": [{"filter": "datum.p == 'A'"}],
      "mark": {"type": "tick", "orient": "vertical", "size": 8, "thickness": 1},
      "encoding": {
       "x": {"field": "d", "type": "quantitative", "title": null},
       "y": {"field": "e", "type": "quantitative", "title": "Cumulative hazard"},
       "color": {"field": "g", "type": "nominal"}
      }}
    ]
   },
   {
    "width": 563, "height": 104,
    "data": {"name": "tables"}, "transform": [{"filter": "datum.p == 'A'"}],
    "mark": {"type": "text", "align": "right", "dx": 15, "baseline": "middle", "fontSize": 12, "color": "#231f20"},
    "encoding": {
     "x": {"field": "d", "type": "quantitative", "scale": {"domain": [0, 90], "nice": false}, "axis": null},
     "y": {"field": "r", "type": "nominal", "scale": {"type": "point", "domain": ["h1","r1","r2","h2","r3","r4"], "padding": 0.5},
      "axis": {"title": null, "domain": false, "ticks": false, "labelPadding": 26, "labelFontSize": 12, "labelLimit": 300,
       "labelExpr": "datum.value == 'h1' ? 'Number at risk' : datum.value == 'h2' ? 'Cumulative deaths' : (datum.value == 'r1' || datum.value == 'r3') ? 'All MSD cases' : 'Controls'",
       "labelFontWeight": {"condition": {"test": "datum.value == 'h1' || datum.value == 'h2'", "value": "bold"}, "value": "normal"}}},
     "text": {"field": "v", "type": "nominal"}
    }
   }
  ],
  "spacing": 24, "bounds": "flush",
  "resolve": {"scale": {"color": "independent", "fill": "independent"}, "legend": {"color": "independent"}}
 },
 {
  "vconcat": [
   {
    "width": 563, "height": 255,
    "title": {"text": "B", "anchor": "start", "frame": "group", "dx": -22, "offset": 6, "fontSize": 17, "fontWeight": "normal", "color": "#231f20"},
    "layer": [
     {"data": {"name": "curves"}, "transform": [{"filter": "datum.p == 'B'"}],
      "mark": {"type": "area", "interpolate": "step-after"},
      "encoding": {
       "x": {"field": "d", "type": "quantitative", "title": null, "scale": {"domain": [0, 90], "nice": false}, "axis": {"values": [0,7,14,21,28,35,42,49,56,63,70,77,84], "tickSize": 6, "labelPadding": 2, "labelFlush": false}},
       "y": {"field": "l", "type": "quantitative", "title": "Cumulative hazard", "scale": {"domain": [0, 0.05], "nice": false}, "axis": {"values": [0,0.01,0.02,0.03,0.04,0.05], "labelExpr": "datum.value == 0 ? '0' : replace(format(datum.value, '.2f'), '.', '·')", "tickSize": 5, "labelPadding": 2, "titlePadding": 20}},
       "y2": {"field": "h"},
       "fill": {"field": "g", "type": "nominal", "scale": {"domain": ["ctrl", "case"], "range": ["#9dc8ae", "#d8cbe4"]}, "legend": null}
      }},
     {"data": {"name": "curves"}, "transform": [{"filter": "datum.p == 'B'"}],
      "mark": {"type": "line", "interpolate": "step-after", "strokeWidth": 1.6},
      "encoding": {
       "x": {"field": "d", "type": "quantitative", "title": null},
       "y": {"field": "e", "type": "quantitative", "title": "Cumulative hazard"},
       "color": {"field": "g", "type": "nominal", "scale": {"domain": ["case", "ctrl"], "range": ["#9061b0", "#0e6b3b"]},
        "legend": {"orient": "none", "legendX": 15, "legendY": -8, "title": null, "symbolType": "stroke", "symbolSize": 529, "symbolStrokeWidth": 2, "labelFontSize": 12, "labelOffset": 5, "clipHeight": 16, "rowPadding": 2, "padding": 0, "labelColor": "#231f20", "labelExpr": "datum.label == 'case' ? 'Non-dysenteric MSD cases' : 'Controls'"}}
      }},
     {"data": {"name": "cens"}, "transform": [{"filter": "datum.p == 'B'"}],
      "mark": {"type": "tick", "orient": "vertical", "size": 8, "thickness": 1},
      "encoding": {
       "x": {"field": "d", "type": "quantitative", "title": null},
       "y": {"field": "e", "type": "quantitative", "title": "Cumulative hazard"},
       "color": {"field": "g", "type": "nominal"}
      }}
    ]
   },
   {
    "width": 563, "height": 104,
    "data": {"name": "tables"}, "transform": [{"filter": "datum.p == 'B'"}],
    "mark": {"type": "text", "align": "right", "dx": 15, "baseline": "middle", "fontSize": 12, "color": "#231f20"},
    "encoding": {
     "x": {"field": "d", "type": "quantitative", "scale": {"domain": [0, 90], "nice": false}, "axis": null},
     "y": {"field": "r", "type": "nominal", "scale": {"type": "point", "domain": ["h1","r1","r2","h2","r3","r4"], "padding": 0.5},
      "axis": {"title": null, "domain": false, "ticks": false, "labelPadding": 29, "labelFontSize": 12, "labelLimit": 300,
       "labelExpr": "datum.value == 'h1' ? 'Number at risk' : datum.value == 'h2' ? 'Cumulative deaths' : (datum.value == 'r1' || datum.value == 'r3') ? 'Non-dysenteric cases' : 'Controls'",
       "labelFontWeight": {"condition": {"test": "datum.value == 'h1' || datum.value == 'h2'", "value": "bold"}, "value": "normal"}}},
     "text": {"field": "v", "type": "nominal"}
    }
   }
  ],
  "spacing": 24, "bounds": "flush",
  "resolve": {"scale": {"color": "independent", "fill": "independent"}, "legend": {"color": "independent"}}
 },
 {
  "vconcat": [
   {
    "width": 563, "height": 255,
    "title": {"text": "C", "anchor": "start", "frame": "group", "dx": -22, "offset": 6, "fontSize": 17, "fontWeight": "normal", "color": "#231f20"},
    "layer": [
     {"data": {"name": "curves"}, "transform": [{"filter": "datum.p == 'C'"}],
      "mark": {"type": "area", "interpolate": "step-after"},
      "encoding": {
       "x": {"field": "d", "type": "quantitative", "title": "Time (days)", "scale": {"domain": [0, 90], "nice": false}, "axis": {"values": [0,7,14,21,28,35,42,49,56,63,70,77,84], "tickSize": 6, "labelPadding": 2, "labelFlush": false, "titlePadding": 15}},
       "y": {"field": "l", "type": "quantitative", "title": "Cumulative hazard", "scale": {"domain": [0, 0.05], "nice": false}, "axis": {"values": [0,0.01,0.02,0.03,0.04,0.05], "labelExpr": "datum.value == 0 ? '0' : replace(format(datum.value, '.2f'), '.', '·')", "tickSize": 5, "labelPadding": 2, "titlePadding": 20}},
       "y2": {"field": "h"},
       "fill": {"field": "g", "type": "nominal", "scale": {"domain": ["ctrl", "case"], "range": ["#dcb2d3", "#bcc3c9"]}, "legend": null}
      }},
     {"data": {"name": "curves"}, "transform": [{"filter": "datum.p == 'C'"}],
      "mark": {"type": "line", "interpolate": "step-after", "strokeWidth": 1.6},
      "encoding": {
       "x": {"field": "d", "type": "quantitative", "title": "Time (days)"},
       "y": {"field": "e", "type": "quantitative", "title": "Cumulative hazard"},
       "color": {"field": "g", "type": "nominal", "scale": {"domain": ["case", "ctrl"], "range": ["#48646e", "#921c7c"]},
        "legend": {"orient": "none", "legendX": 15, "legendY": -8, "title": null, "symbolType": "stroke", "symbolSize": 529, "symbolStrokeWidth": 2, "labelFontSize": 12, "labelOffset": 5, "clipHeight": 16, "rowPadding": 2, "padding": 0, "labelColor": "#231f20", "labelExpr": "datum.label == 'case' ? 'Dysenteric MSD cases' : 'Controls'"}}
      }},
     {"data": {"name": "cens"}, "transform": [{"filter": "datum.p == 'C'"}],
      "mark": {"type": "tick", "orient": "vertical", "size": 8, "thickness": 1},
      "encoding": {
       "x": {"field": "d", "type": "quantitative", "title": "Time (days)"},
       "y": {"field": "e", "type": "quantitative", "title": "Cumulative hazard"},
       "color": {"field": "g", "type": "nominal"}
      }}
    ]
   },
   {
    "width": 563, "height": 104,
    "data": {"name": "tables"}, "transform": [{"filter": "datum.p == 'C'"}],
    "mark": {"type": "text", "align": "right", "dx": 13, "baseline": "middle", "fontSize": 12, "color": "#231f20"},
    "encoding": {
     "x": {"field": "d", "type": "quantitative", "scale": {"domain": [0, 90], "nice": false}, "axis": null},
     "y": {"field": "r", "type": "nominal", "scale": {"type": "point", "domain": ["h1","r1","r2","h2","r3","r4"], "padding": 0.5},
      "axis": {"title": null, "domain": false, "ticks": false, "labelPadding": 25, "labelFontSize": 12, "labelLimit": 300,
       "labelExpr": "datum.value == 'h1' ? 'Number at risk' : datum.value == 'h2' ? 'Cumulative deaths' : (datum.value == 'r1' || datum.value == 'r3') ? 'Dysenteric MSD cases' : 'Controls'",
       "labelFontWeight": {"condition": {"test": "datum.value == 'h1' || datum.value == 'h2'", "value": "bold"}, "value": "normal"}}},
     "text": {"field": "v", "type": "nominal"}
    }
   }
  ],
  "spacing": 42, "bounds": "flush",
  "resolve": {"scale": {"color": "independent", "fill": "independent"}, "legend": {"color": "independent"}}
 }
],
"spacing": 32,
"resolve": {"scale": {"color": "independent", "fill": "independent"}, "legend": {"color": "independent"}}
}
